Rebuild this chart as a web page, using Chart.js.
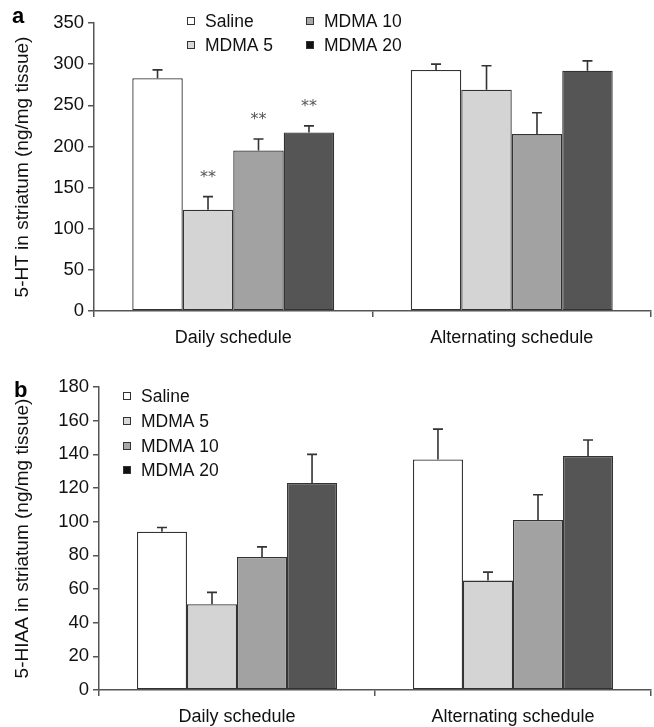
<!DOCTYPE html>
<html>
<head>
<meta charset="utf-8">
<script src="https://cdn.jsdelivr.net/npm/chart.js@4.4.1/dist/chart.umd.min.js"></script>
<style>
  html, body { margin: 0; padding: 0; background: #fff; }
  .panel { position: absolute; left: 0; width: 654px; }
</style>
</head>
<body>
<div class="panel" style="top:0;height:360px"><canvas id="chartA"></canvas></div>
<div class="panel" style="top:360px;height:367px"><canvas id="chartB"></canvas></div>
<script>
// categories and groups
const schedules = ["Daily schedule", "Alternating schedule"];
const groups = ["Saline", "MDMA 5", "MDMA 10", "MDMA 20"];

// panel a: 5-HT (ng/mg tissue), mean per schedule
const htSaline = [283, 293];
const htMdma5 = [123, 269];
const htMdma10 = [195, 215];
const htMdma20 = [217, 292];
// panel a: SEM
const htSemSaline = [10, 7];
const htSemMdma5 = [16, 29];
const htSemMdma10 = [14, 26];
const htSemMdma20 = [8, 12];
// panel a: significance marks
const htMarks = [["", ""], ["**", ""], ["**", ""], ["**", ""]];
const htTicks = [0, 50, 100, 150, 200, 250, 300, 350];

// panel b: 5-HIAA (ng/mg tissue)
const hiaaSaline = [94, 137];
const hiaaMdma5 = [51, 65];
const hiaaMdma10 = [79, 101];
const hiaaMdma20 = [123, 139];
const hiaaSemSaline = [2.5, 18];
const hiaaSemMdma5 = [7, 5];
const hiaaSemMdma10 = [6, 15];
const hiaaSemMdma20 = [17, 9.5];
const hiaaTicks = [0, 20, 40, 60, 80, 100, 120, 140, 160, 180];

const barFills = ["#ffffff", "#d4d4d4", "#a2a2a2", "#555555"];
const swatchFills = ["#ffffff", "#d8d8d8", "#a8a8a8", "#111111"];
const FONT = "'Liberation Sans', Arial, sans-serif";

// error bars, asterisks, legend and panel letter
const extrasPlugin = {
    id: "extras",
    afterDatasetsDraw(chart, args, opts) {
        const ctx = chart.ctx;
        const yScale = chart.scales.y;
        ctx.save();
        chart.data.datasets.forEach((ds, di) => {
            const meta = chart.getDatasetMeta(di);
            meta.data.forEach((bar, i) => {
                const top = yScale.getPixelForValue(ds.data[i] + ds.sem[i]);
                ctx.strokeStyle = "#333";
                ctx.lineWidth = 1.6;
                ctx.beginPath();
                ctx.moveTo(bar.x, bar.y);
                ctx.lineTo(bar.x, top);
                ctx.moveTo(bar.x - 5, top);
                ctx.lineTo(bar.x + 5, top);
                ctx.stroke();
                const mark = ds.marks ? ds.marks[i] : "";
                if (mark) {
                    ctx.fillStyle = "#555";
                    ctx.font = "16px 'DejaVu Sans', sans-serif";
                    ctx.textAlign = "center";
                    ctx.textBaseline = "middle";
                    ctx.fillText(mark, bar.x, top - 19);
                }
            });
        });

        // legend
        ctx.font = "17.5px " + FONT;
        ctx.textAlign = "left";
        ctx.textBaseline = "middle";
        opts.legend.forEach((pos, i) => {
            ctx.fillStyle = swatchFills[i];
            ctx.fillRect(pos[0], pos[1] - 4, 8, 8);
            ctx.strokeStyle = "#333";
            ctx.lineWidth = 1;
            ctx.strokeRect(pos[0] + 0.5, pos[1] - 3.5, 7, 7);
            ctx.fillStyle = "#111";
            ctx.fillText(chart.data.datasets[i].label, pos[0] + 18, pos[1] + 1);
        });

        // panel letter
        ctx.font = "bold 22px " + FONT;
        ctx.textBaseline = "alphabetic";
        ctx.fillStyle = "#000";
        ctx.fillText(opts.letter, opts.letterPos[0], opts.letterPos[1]);
        ctx.restore();
    },
};

function makeDatasets(means, sems, marks) {
    return groups.map((g, i) => ({
        label: g,
        data: means[i],
        sem: sems[i],
        marks: marks ? marks[i] : null,
        backgroundColor: barFills[i],
        borderColor: "#333",
        borderWidth: 1.3,
        borderSkipped: false,
        barPercentage: 1,
        categoryPercentage: 0.725,
    }));
}

function makeChart(id, cfg) {
    const ctx = document.getElementById(id).getContext("2d");
    return new Chart(ctx, {
        type: "bar",
        data: { labels: schedules, datasets: cfg.datasets },
        options: {
            responsive: true,
            maintainAspectRatio: false,
            animation: false,
            layout: { padding: { top: cfg.top, right: 3, left: 0, bottom: 0 } },
            plugins: {
                legend: { display: false },
                tooltip: { enabled: false },
                extras: { legend: cfg.legend, letter: cfg.letter, letterPos: cfg.letterPos },
            },
            scales: {
                x: {
                    offset: true,
                    border: { color: "#555", width: 1.5 },
                    grid: { offset: true, drawOnChartArea: false, drawTicks: true, tickLength: 6, color: "#555", lineWidth: 1.5 },
                    ticks: { color: "#111", font: { family: FONT, size: 18 }, padding: 10 },
                    afterFit(scale) { scale.height = cfg.xHeight; },
                },
                y: {
                    min: 0,
                    max: cfg.ticks[cfg.ticks.length - 1],
                    afterBuildTicks(scale) { scale.ticks = cfg.ticks.map(v => ({ value: v })); },
                    border: { color: "#555", width: 1.5 },
                    grid: { drawOnChartArea: false, drawTicks: true, tickLength: 6, color: "#555", lineWidth: 1.5 },
                    ticks: { color: "#111", font: { family: FONT, size: 18.5 }, padding: 4 },
                    title: {
                        display: true,
                        text: cfg.title,
                        color: "#111",
                        font: { family: FONT, size: 19 },
                        padding: { top: 11, bottom: 0 },
                    },
                    afterFit(scale) { scale.width = cfg.yWidth; },
                },
            },
        },
        plugins: [extrasPlugin],
    });
}

makeChart("chartA", {
    datasets: makeDatasets(
        [htSaline, htMdma5, htMdma10, htMdma20],
        [htSemSaline, htSemMdma5, htSemMdma10, htSemMdma20],
        htMarks
    ),
    ticks: htTicks,
    title: "5-HT in striatum (ng/mg tissue)",
    top: 23,
    xHeight: 49,
    yWidth: 94,
    legend: [[187, 21], [187, 45], [306, 21], [306, 45]],
    letter: "a",
    letterPos: [12, 23],
});

makeChart("chartB", {
    datasets: makeDatasets(
        [hiaaSaline, hiaaMdma5, hiaaMdma10, hiaaMdma20],
        [hiaaSemSaline, hiaaSemMdma5, hiaaSemMdma10, hiaaSemMdma20],
        null
    ),
    ticks: hiaaTicks,
    title: "5-HIAA in striatum (ng/mg tissue)",
    top: 27,
    xHeight: 37,
    yWidth: 99,
    legend: [[123, 36], [123, 61], [123, 86], [123, 110]],
    letter: "b",
    letterPos: [14, 37],
});
</script>
</body>
</html>
